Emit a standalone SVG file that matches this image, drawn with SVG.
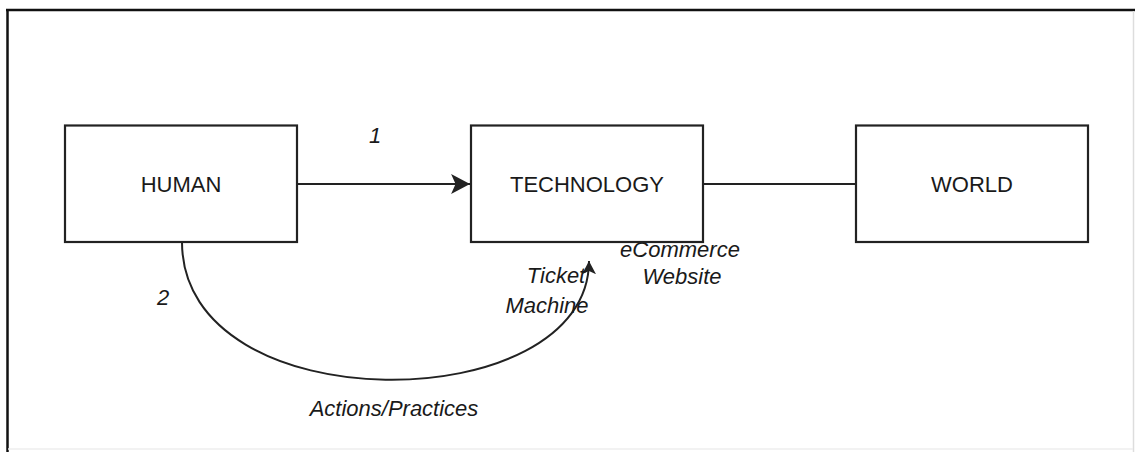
<svg xmlns="http://www.w3.org/2000/svg" width="1135" height="452" viewBox="0 0 1135 452">
<style>
.box{fill:#fff;stroke:#222;stroke-width:2.2}
.lbl{font-family:"Liberation Sans",Arial,sans-serif;font-size:22px;fill:#1a1a1a;text-anchor:middle}
.it{font-family:"Liberation Sans",Arial,sans-serif;font-size:22px;font-style:italic;fill:#1a1a1a;text-anchor:middle}
.edge{fill:none;stroke:#222;stroke-width:2}
</style>
<defs>
<marker id="arr" markerUnits="userSpaceOnUse" markerWidth="20" markerHeight="20" viewBox="0 0 18 18" refX="17" refY="9" orient="auto">
<path d="M0,0 L17,9 L0,18 L4,9 Z" fill="#222"/>
</marker>
<marker id="arrs" markerUnits="userSpaceOnUse" markerWidth="14" markerHeight="14" viewBox="0 0 18 18" refX="17" refY="9" orient="auto">
<path d="M0,0 L17,9 L0,18 L4,9 Z" fill="#222"/>
</marker>
</defs>
<rect width="1135" height="452" fill="#fff"/>
<line x1="6" y1="10" x2="1135" y2="10" stroke="#111" stroke-width="2.5"/>
<line x1="7.5" y1="10" x2="7.5" y2="452" stroke="#111" stroke-width="2.5"/>
<line x1="1133.5" y1="11" x2="1133.5" y2="452" stroke="#ddd" stroke-width="1.5"/>
<line x1="8" y1="449" x2="1133" y2="449" stroke="#eee" stroke-width="1.5"/>
<g id="connectors">
<line class="edge" x1="297" y1="184" x2="470" y2="184" marker-end="url(#arr)"/>
<line class="edge" x1="703" y1="184" x2="856" y2="184"/>
<path class="edge" d="M182,242 C182,425 589,420 589,261" marker-end="url(#arrs)"/>
<text class="it" x="375" y="143">1</text>
<text class="it" x="163" y="305">2</text>
<text class="it" x="394" y="416">Actions/Practices</text>
<text class="it"><tspan x="556" y="283">Ticket</tspan><tspan x="547" y="313">Machine</tspan></text>
<text class="it"><tspan x="680" y="257">eCommerce</tspan><tspan x="682" y="284">Website</tspan></text>
</g>
<g id="human">
<rect class="box" x="65" y="125.5" width="232" height="116.5"/>
<text class="lbl" x="181" y="192">HUMAN</text>
</g>
<g id="technology">
<rect class="box" x="471" y="125.5" width="232" height="116.5"/>
<text class="lbl" x="587" y="192">TECHNOLOGY</text>
</g>
<g id="world">
<rect class="box" x="856" y="125.5" width="232" height="116.5"/>
<text class="lbl" x="972" y="192">WORLD</text>
</g>
</svg>
